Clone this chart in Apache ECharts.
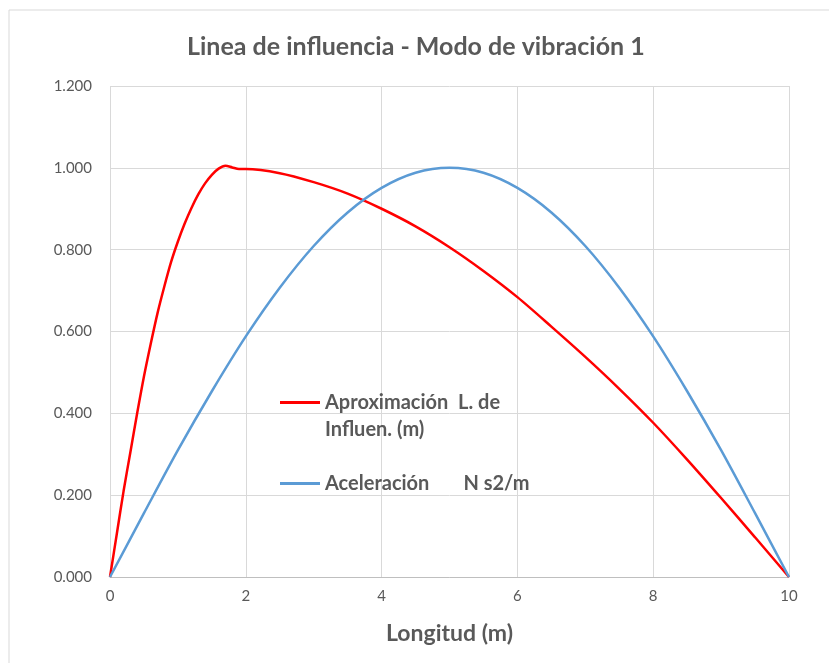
<!DOCTYPE html>
<html>
<head>
<meta charset="utf-8">
<script src="https://cdn.jsdelivr.net/npm/echarts@6/dist/echarts.min.js"></script>
<style>
  html, body { margin: 0; padding: 0; background: #fff; }
  #chart { width: 829px; height: 663px; }
</style>
</head>
<body>
<div id="chart"></div>
<script>
// valores
var redX = [0, 0.1, 0.2, 0.3, 0.4, 0.5, 0.6, 0.7, 0.8, 0.9, 1.0, 1.1, 1.2, 1.3, 1.4, 1.5, 1.6, 1.7, 1.8, 1.9, 2.0, 2.5, 3.0, 3.5, 4.0, 4.5, 5.0, 5.5, 6.0, 6.5, 7.0, 7.5, 8.0, 8.5, 9.0, 9.5, 10];
var redY = [0, 0.105, 0.21, 0.305, 0.4, 0.49, 0.57, 0.645, 0.71, 0.77, 0.82, 0.864, 0.902, 0.935, 0.962, 0.983, 0.998, 1.005, 1.001, 0.997, 0.997, 0.987, 0.965, 0.937, 0.90, 0.857, 0.806, 0.748, 0.684, 0.612, 0.538, 0.46, 0.377, 0.287, 0.193, 0.097, 0];
var blueX = [0, 0.5, 1, 1.5, 2, 2.5, 3, 3.5, 4, 4.5, 5, 5.5, 6, 6.5, 7, 7.5, 8, 8.5, 9, 9.5, 10];
var blueY = [0, 0.156, 0.31, 0.454, 0.588, 0.707, 0.809, 0.891, 0.951, 0.988, 1.0, 0.988, 0.951, 0.891, 0.809, 0.707, 0.588, 0.454, 0.31, 0.156, 0];
var redName = 'Aproximación  L. de\nInfluen. (m)';
var blueName = 'Aceleración       N s2/m';

function pairs(xs, ys) {
  return xs.map(function (x, i) { return [x, ys[i]]; });
}

var chart = echarts.init(document.getElementById('chart'));
var font = 'Lato, "Open Sans", sans-serif';
var option = {
  animation: false,
  textStyle: { fontFamily: font },
  graphic: [{
    type: 'rect',
    shape: { x: 9, y: 10, width: 840, height: 680 },
    style: { fill: 'none', stroke: '#d9d9d9', lineWidth: 1 },
    silent: true
  }],
  title: {
    text: 'Linea de influencia - Modo de vibración 1',
    left: 182,
    top: 29,
    textStyle: { fontFamily: font, fontSize: 25, fontWeight: 'bold', color: '#595959' }
  },
  legend: [{
    data: [redName],
    formatter: function (n) { return '\n' + n; },
    left: 280,
    top: 362,
    padding: 0,
    icon: 'rect',
    itemWidth: 40,
    itemHeight: 3,
    textStyle: { fontFamily: font, fontSize: 20, fontWeight: 'bold', color: '#595959', lineHeight: 27 }
  }, {
    data: [blueName],
    left: 280,
    top: 471,
    padding: 0,
    icon: 'rect',
    itemWidth: 40,
    itemHeight: 3,
    textStyle: { fontFamily: font, fontSize: 20, fontWeight: 'bold', color: '#595959', lineHeight: 25 }
  }],
  grid: { left: 110, right: 40, top: 86, bottom: 86, containLabel: false },
  xAxis: {
    type: 'value',
    min: 0, max: 10, interval: 2,
    name: 'Longitud (m)',
    nameLocation: 'middle',
    nameGap: 45,
    nameTextStyle: { fontFamily: font, fontSize: 23, fontWeight: 'bold', color: '#595959' },
    axisLine: { show: true, lineStyle: { color: '#bfbfbf', width: 1 } },
    axisTick: { show: false },
    axisLabel: { fontSize: 15, color: '#595959', margin: 12 },
    splitLine: { show: true, lineStyle: { color: '#d9d9d9', width: 1 } }
  },
  yAxis: {
    type: 'value',
    min: 0, max: 1.2, interval: 0.2,
    axisLine: { show: false },
    axisTick: { show: false },
    axisLabel: { fontSize: 15, color: '#595959', margin: 18, formatter: function (v) { return v.toFixed(3); } },
    splitLine: { show: true, lineStyle: { color: '#d9d9d9', width: 1 } }
  },
  series: [{
    name: redName,
    type: 'line',
    data: pairs(redX, redY),
    smooth: 0.3,
    symbol: 'none',
    lineStyle: { color: '#ff0000', width: 2.5 },
    itemStyle: { color: '#ff0000' }
  }, {
    name: blueName,
    type: 'line',
    data: pairs(blueX, blueY),
    smooth: 0.3,
    symbol: 'none',
    lineStyle: { color: '#5b9bd5', width: 2.5 },
    itemStyle: { color: '#5b9bd5' }
  }]
};
chart.setOption(option);
</script>
</body>
</html>
